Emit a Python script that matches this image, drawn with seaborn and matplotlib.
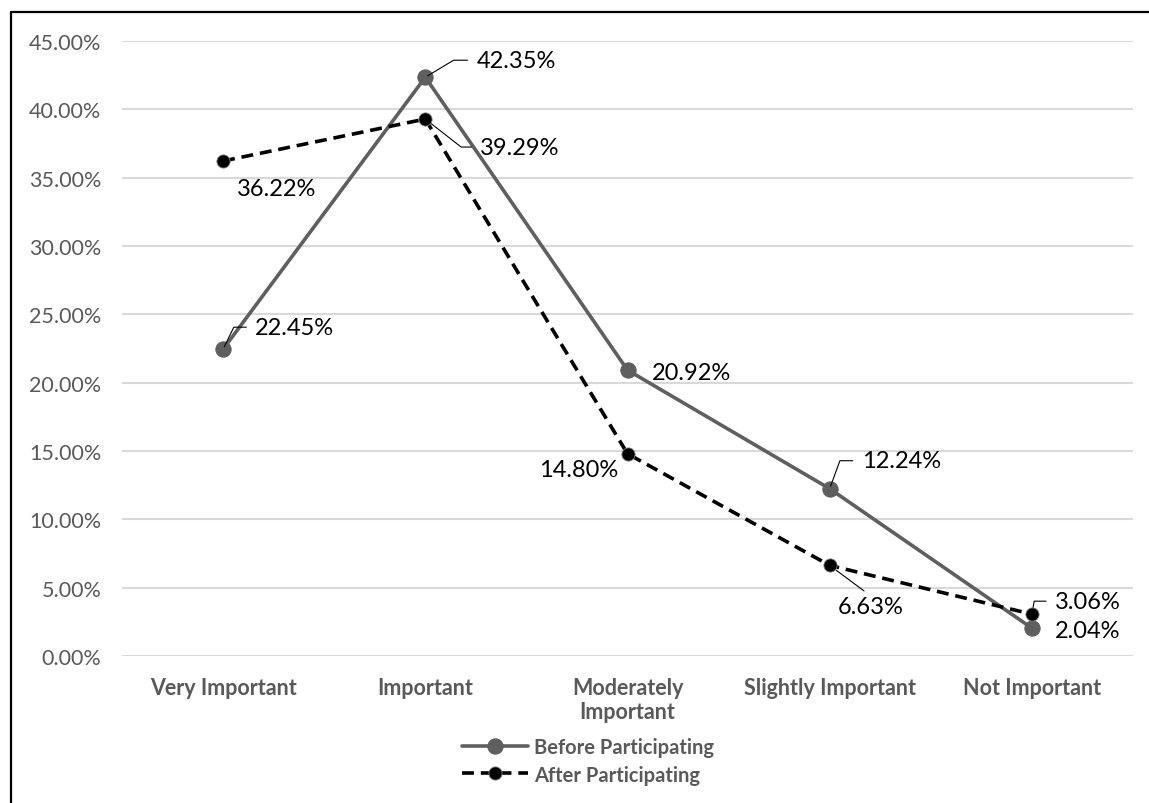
import numpy as np
import pandas as pd
import seaborn as sns
import matplotlib.pyplot as plt
from matplotlib.lines import Line2D
from matplotlib.ticker import PercentFormatter

categories = ['Very Important', 'Important', 'Moderately\nImportant', 'Slightly Important', 'Not Important']
before_values = [22.45, 42.35, 20.92, 12.24, 2.04]
after_values = [36.22, 39.29, 14.80, 6.63, 3.06]
series_names = ['Before Participating', 'After Participating']

W, H = 1149, 804

sns.set_style("white")
plt.rcParams['font.family'] = ['Lato', 'DejaVu Sans']

fig = plt.figure(figsize=(W / 100, H / 100), dpi=100)
ax = fig.add_axes([122 / W, 1 - 657 / H, (1133 - 122) / W, (657 - 42) / H])

df_before = pd.DataFrame({'category': categories, 'value': before_values})
df_after = pd.DataFrame({'category': categories, 'value': after_values})

sns.lineplot(data=df_before, x='category', y='value', sort=False, ax=ax, color='#5f5f5f',
             linewidth=2.6, marker='o', markersize=11, markeredgecolor='#5f5f5f',
             label=series_names[0], zorder=3)
sns.lineplot(data=df_after, x='category', y='value', sort=False, ax=ax, color='black',
             linewidth=2.6, marker='o', markersize=9.5, markeredgecolor='#7f7f7f', markeredgewidth=0.6,
             dashes=(3.3, 1.9), label=series_names[1], zorder=4)

ax.set_xlim(-0.5, 4.5)
ax.set_ylim(0, 45)
ax.set_yticks(np.arange(0, 46, 5))
ax.yaxis.set_major_formatter(PercentFormatter(decimals=2))
ax.grid(axis='y', color='#d9d9d9', linewidth=1.5)
ax.set_axisbelow(True)
for s in ax.spines.values():
    s.set_visible(False)
ax.set_xlabel('')
ax.set_ylabel('')
ax.tick_params(axis='y', length=0, pad=15, labelsize=15.5, labelcolor='#595959')
ax.tick_params(axis='x', length=0, pad=15, labelsize=15.5, labelcolor='#595959')
for lab in ax.get_xticklabels():
    lab.set_fontweight('bold')
    lab.set_linespacing(1.2)
    lab.set_verticalalignment('top')

label_fmt = '{:.2f}%'
lbl_kw = dict(fontsize=17, color='black', textcoords='offset pixels', va='center')


def leader(angle):
    return dict(arrowstyle='-', color='black', lw=0.8, relpos=(0, 0.5), shrinkA=4, shrinkB=2,
                connectionstyle='angle,angleA=0,angleB={}'.format(angle))


# Before Participating
ax.annotate(label_fmt.format(before_values[0]), (0, before_values[0]), xytext=(32, 22),
            arrowprops=leader(64), **lbl_kw)
ax.annotate(label_fmt.format(before_values[1]), (1, before_values[1]), xytext=(51, 17),
            arrowprops=leader(31), **lbl_kw)
ax.annotate(label_fmt.format(before_values[2]), (2, before_values[2]), xytext=(24, -2), **lbl_kw)
ax.annotate(label_fmt.format(before_values[3]), (3, before_values[3]), xytext=(32, 28),
            arrowprops=leader(70), **lbl_kw)
ax.annotate(label_fmt.format(before_values[4]), (4, before_values[4]), xytext=(23, -2), **lbl_kw)

# After Participating
ax.annotate(label_fmt.format(after_values[0]), (0, after_values[0]), xytext=(14, -28), **lbl_kw)
ax.annotate(label_fmt.format(after_values[1]), (1, after_values[1]), xytext=(55, -28),
            arrowprops=leader(-38), **lbl_kw)
ax.annotate(label_fmt.format(after_values[2]), (2, after_values[2]), xytext=(-9, -16), ha='right', **lbl_kw)
ax.annotate(label_fmt.format(after_values[3]), (3, after_values[3]), xytext=(41, -41),
            arrowprops=dict(arrowstyle='-', color='black', lw=0.8, relpos=(0.5, 1), shrinkA=2, shrinkB=6),
            ha='center', **lbl_kw)
ax.annotate(label_fmt.format(after_values[4]), (4, after_values[4]), xytext=(23, 13),
            arrowprops=leader(80), **lbl_kw)

handles, labels = ax.get_legend_handles_labels()
leg = ax.legend(handles, labels, loc='center', bbox_to_anchor=(588 / W, 1 - 762 / H),
                bbox_transform=fig.transFigure, frameon=False, handlelength=3.3, handletextpad=0.3,
                labelspacing=0.35, prop={'size': 14.5, 'weight': 'bold'})
for t in leg.get_texts():
    t.set_color('#595959')

# outer chart border (left and top edges visible)
fig.add_artist(Line2D([11 / W, 11 / W], [0, 1 - 13 / H], transform=fig.transFigure, color='black', lw=1.6))
fig.add_artist(Line2D([11 / W, 1], [1 - 13 / H, 1 - 13 / H], transform=fig.transFigure, color='black', lw=1.6))

fig.savefig('out.png', dpi=100)
